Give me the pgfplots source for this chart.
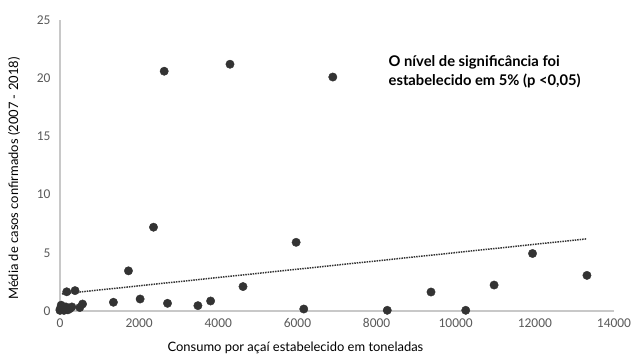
\documentclass[border=0pt]{standalone}
\usepackage{pgfplots}
\pgfplotsset{compat=1.18}
\usepackage{fontspec}
\setmainfont{Lato}
\newfontfamily\carlito{Carlito}
\definecolor{markc}{HTML}{333333}
\definecolor{axc}{HTML}{C8C8C8}
\definecolor{tickc}{HTML}{5A5A5A}
\begin{document}
\begin{tikzpicture}
\useasboundingbox (-60bp,-47bp) rectangle (574bp,311bp);
\begin{axis}[
  scale only axis,
  width=554bp, height=291bp,
  xmin=0, xmax=14000, ymin=0, ymax=25,
  axis x line=bottom, axis y line=left,
  axis line style={draw=axc, line width=1.2pt, -},
  xtick={0,2000,...,14000}, ytick={0,5,...,25},
  scaled x ticks=false, scaled y ticks=false,
  major tick length=0pt,
  /pgf/number format/1000 sep={},
  /pgf/number format/assume math mode=true,
  ticklabel style={font=\carlito\fontsize{13.5}{13.5}\selectfont, text=tickc},
  xticklabel style={yshift=-4bp},
  yticklabel style={xshift=-6bp},
  xlabel={Consumo por açaí estabelecido em toneladas},
  ylabel={Média de casos confirmados (2007 - 2018)},
  label style={font=\fontsize{13}{13}\selectfont, text=black},
  xlabel style={at={(axis description cs:0.425,-0.138)}, anchor=base},
  ylabel style={at={(axis description cs:-0.066,0.455)}, anchor=south},
  clip=false,
]
\addplot[only marks, mark=*, mark size=4.2bp, mark options={draw=markc, fill=markc}] coordinates {
(0,0.15) (30,0.5) (60,0.3) (100,0.05) (150,0.35) (200,0.1) (250,0.2) (300,0.35)
(500,0.3) (570,0.6) (170,1.65) (380,1.75) (0,0.05)
(1350,0.75) (1730,3.45) (2025,1.03) (2363,7.2) (2633,20.6) (2717,0.66)
(3485,0.46) (3806,0.86) (4296,21.2) (4625,2.1) (5967,5.9) (6160,0.17)
(6894,20.1) (8270,0.06) (9376,1.63) (10253,0.06) (10970,2.23) (11941,4.94) (13316,3.06)
};
\addplot[densely dotted, line width=1.5pt, color=markc] coordinates {(50,1.47) (13316,6.2)};
\node[anchor=north west, align=left, inner sep=0pt, font=\bfseries\fontsize{14.8}{19}\selectfont]
  at (axis cs:8300,22.0) {O nível de significância foi\\estabelecido em 5\% (p <0,05)};
\end{axis}
\end{tikzpicture}
\end{document}
